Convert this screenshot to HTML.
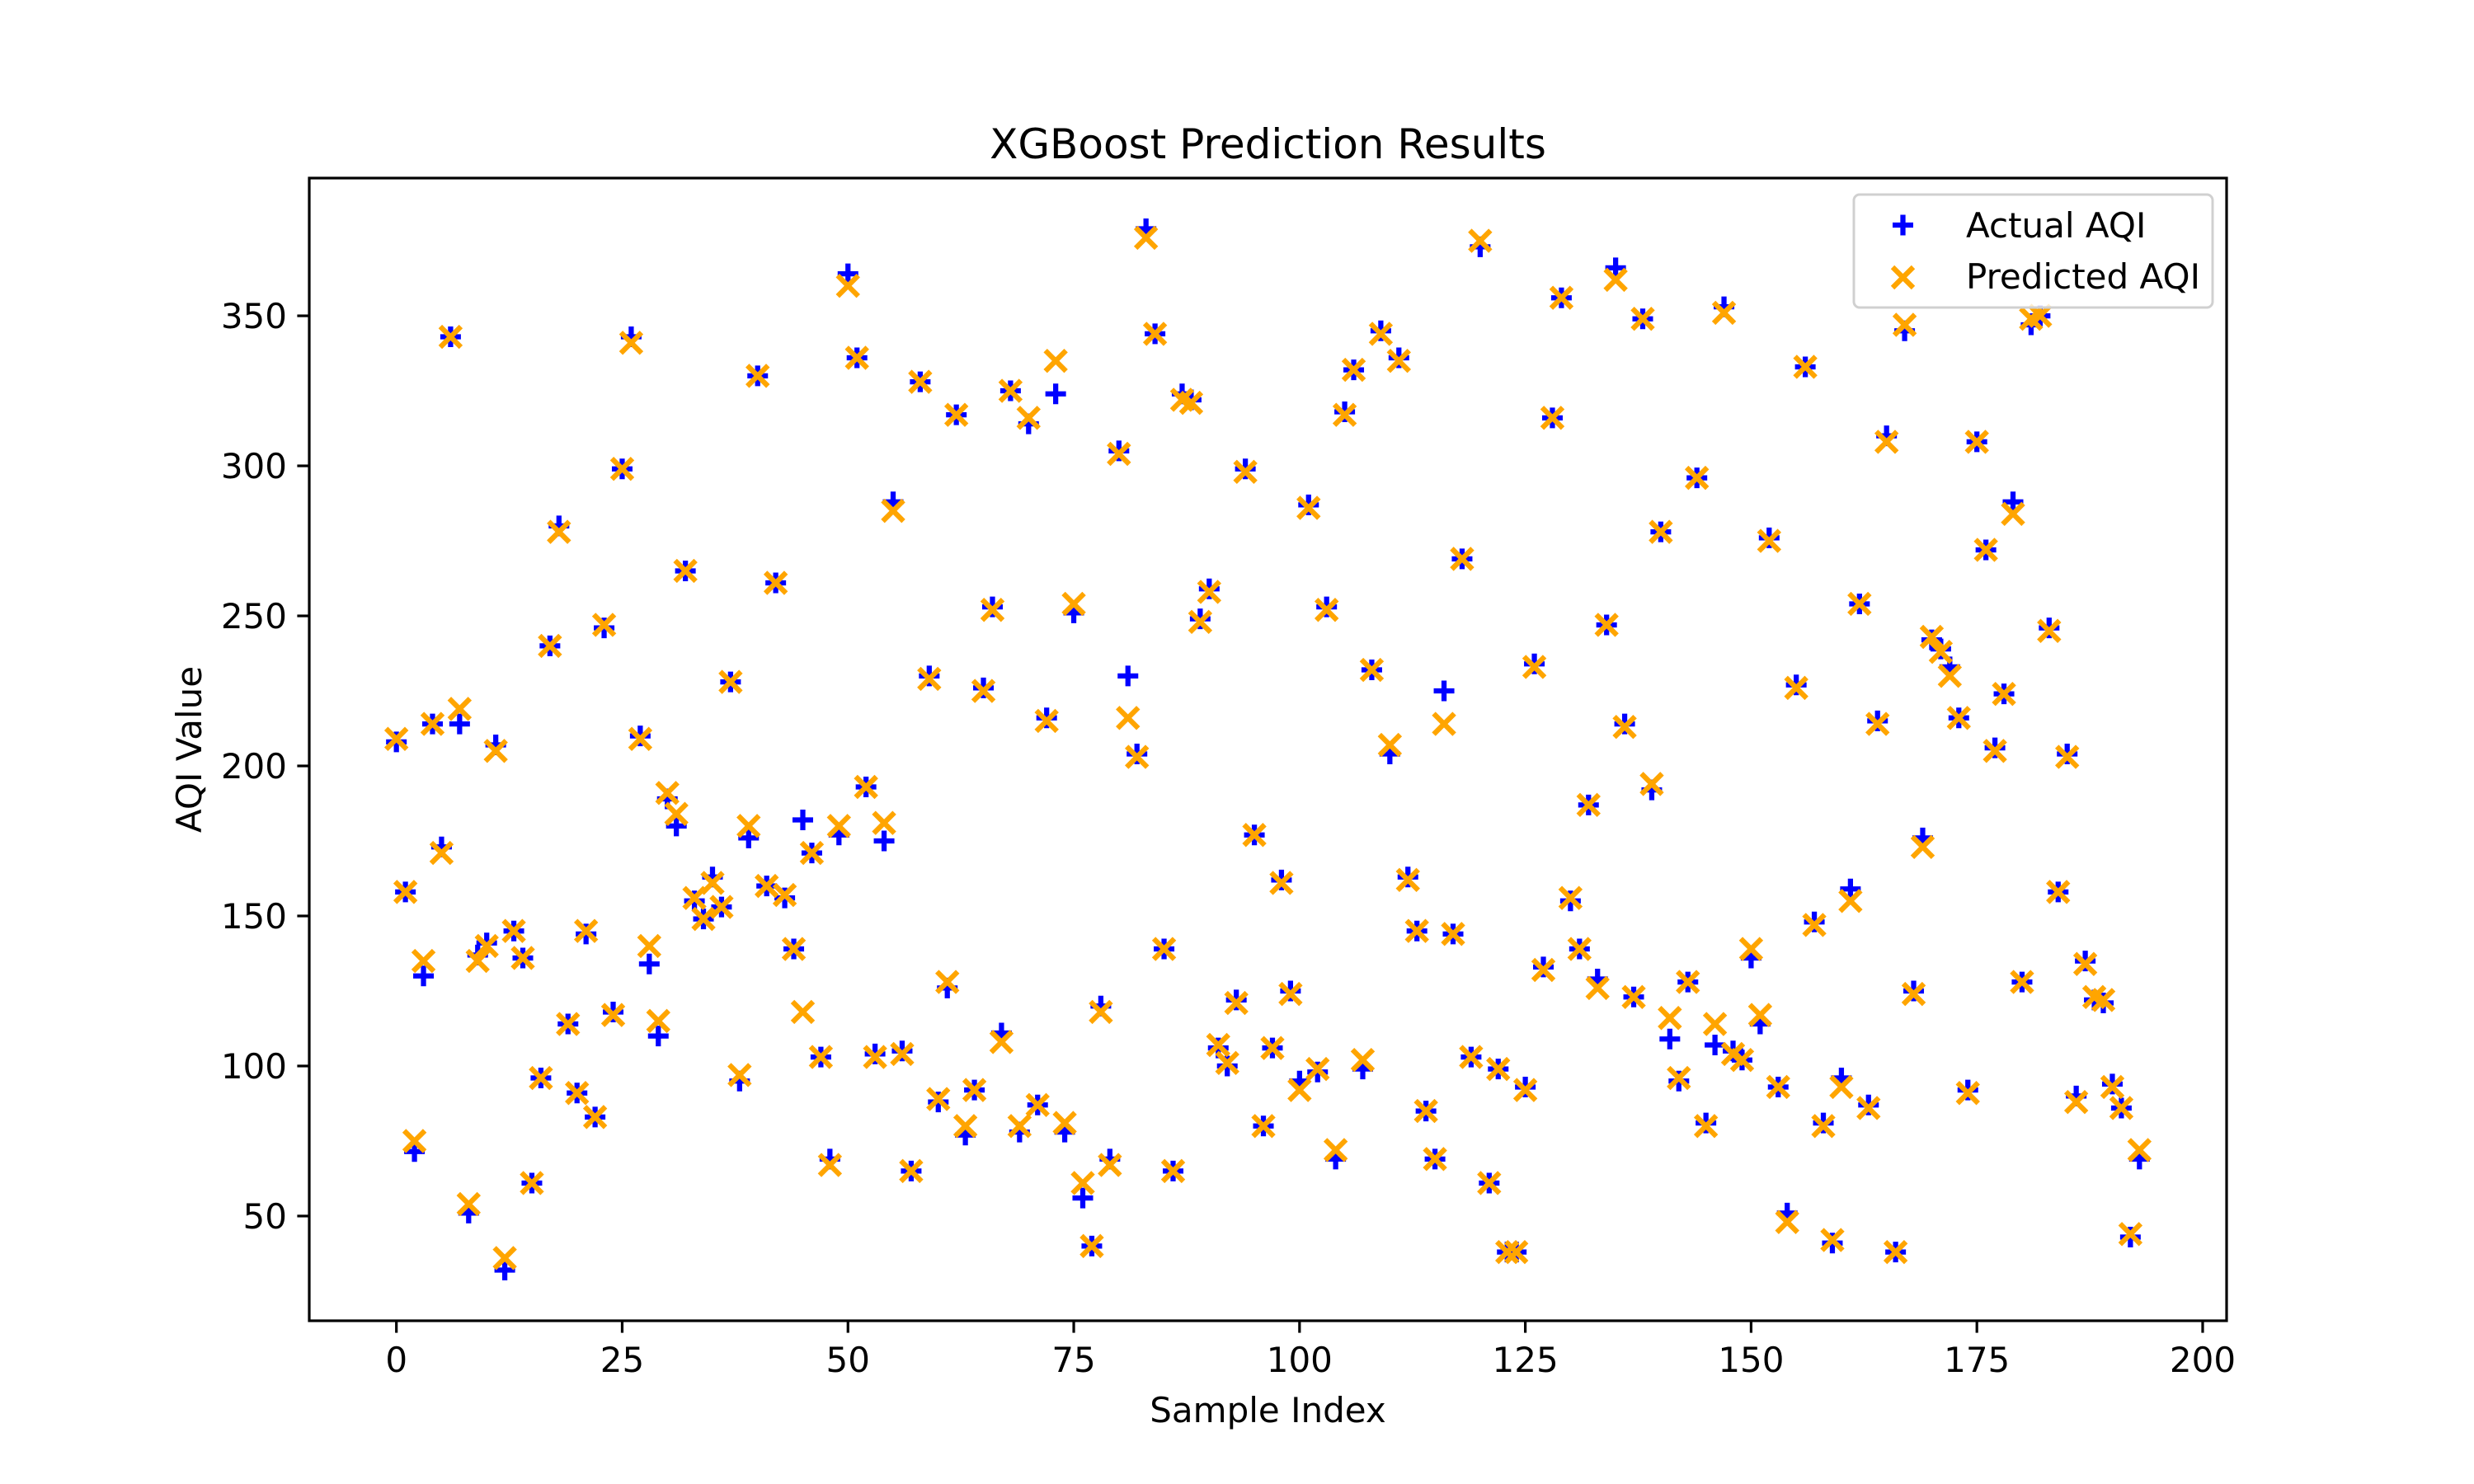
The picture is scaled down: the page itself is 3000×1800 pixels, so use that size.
<!DOCTYPE html>
<html><head><meta charset="utf-8"><style>
html,body{margin:0;padding:0;background:#fff;}
svg{display:block;font-family:"DejaVu Sans","Liberation Sans",sans-serif;}
</style></head><body>
<svg id="chart" width="3000" height="1800" viewBox="0 0 3000 1800" xmlns="http://www.w3.org/2000/svg">
<rect width="3000" height="1800" fill="#fff"/>
<text x="1537.5" y="192" font-size="50" text-anchor="middle">XGBoost Prediction Results</text>
<text x="1537.5" y="1725" font-size="42" text-anchor="middle">Sample Index</text>
<text x="0" y="0" font-size="42" text-anchor="middle" transform="translate(244,909) rotate(-90)">AQI Value</text>
<g id="ticks"></g>
<g id="marks"></g>
<rect x="375" y="216" width="2325" height="1386" fill="none" stroke="#000" stroke-width="3.2"/>
<g>
<rect x="2248" y="236" width="435" height="137" rx="7" fill="#fff" fill-opacity="0.8" stroke="#d0d0d0" stroke-width="3"/>
<g>
<path d="M2295 273h25M2307.5 260.5v25" stroke="blue" stroke-width="6.25"/>
<text x="2384" y="288" font-size="42">Actual AQI</text></g>
<g>
<path d="M2295 324l25 25M2295 349l25 -25" stroke="orange" stroke-width="6.25"/>
<text x="2384" y="350" font-size="42">Predicted AQI</text></g>
</g>
</svg>
<script>
const actual=[208,158,71.5,130,214,173,343,214,51,137,141,207,32,145,136,61,96,240,280,114,91,144,83,246,118,299,343,210,134,110,189,180,265,155,149,163,153,228,95,176,330,160,261,156,139,182,171,103,69,177,364,336,193,104,175,288,105,65,328,230,88,126,317,77,92,226,253,111,325,78,314,87,216,324,78,251,56,40,120,69,305,230,204,379,344,139,65,324,322,249,259,106,100,122,299,177,80,106,162,125,95,287,98,253,69,318,332,99,232,345,204,336,163,145,85,69,225,144,269,103,373,61,99,38,38,93,234,133,316,356,155,139,187,129,247,366,214,123,349,192,278,109,95,128,296,81,107,353,105,102,136,114,276,93,51,227,333,148,81,41,96,159,254,87,215,310,38,345,125,176,242,239,233,216,92,308,272,206,224,288,128,347,350,246,158,204,90,135,122,121,94,86,43,69];
const predicted=[209,158,75,135,214,171,343,219,54,135,140,205,36,145,136,61,96,240,278,114,91,145,83,247,117,299,341,209,140,115,191,184,265,156,149,161,153,228,97,180,330,160,261,157,139,118,171,103,67,180,360,336,193,103,181,285,104,65,328,229,89,128,317,80,92,225,252,108,325,80,316,87,215,335,81,254,61,40,118,67,304,216,203,376,344,139,65,322,321,248,258,107,101,121,298,177,80,106,161,124,92,286,99,252,72,317,332,102,232,344,207,335,162,145,85,69,214,144,269,103,375,61,99,38,38,92,233,132,316,356,156,139,187,126,247,362,213,123,349,194,278,116,96,128,296,80,114,351,104,102,139,117,275,93,48,226,333,147,80,42,93,155,254,86,214,308,38,347,124,173,243,238,230,216,91,308,272,205,224,284,128,349,350,245,158,203,88,134,123,122,93,86,44,72];
const xTicks=[0,25,50,75,100,125,150,175,200];
const yTicks=[50,100,150,200,250,300,350];
const NS="http://www.w3.org/2000/svg";
const X0=375,X1=2700,Y0=216,Y1=1602;
const xmin=-9.65,xmax=202.65,ymin=15.1,ymax=395.9;
function sx(v){return X0+(v-xmin)/(xmax-xmin)*(X1-X0);}
function sy(v){return Y1-(v-ymin)/(ymax-ymin)*(Y1-Y0);}
function el(t,a,p){const e=document.createElementNS(NS,t);for(const k in a)e.setAttribute(k,a[k]);p.appendChild(e);return e;}
const tg=document.getElementById('ticks'),mg=document.getElementById('marks');
xTicks.forEach(v=>{
  const x=sx(v);
  const l=el('line',{x1:x,x2:x,y1:Y1,y2:Y1+14.6,stroke:'#000','stroke-width':3.2},tg);
  
  
  const t=el('text',{x:x,y:Y1+62,'font-size':42,'text-anchor':'middle'},tg);
  t.textContent=v;
  
  
});
yTicks.forEach(v=>{
  const y=sy(v);
  const l=el('line',{x1:X0-14.6,x2:X0,y1:y,y2:y,stroke:'#000','stroke-width':3.2},tg);
  
  
  const t=el('text',{x:X0-27,y:y+15,'font-size':42,'text-anchor':'end'},tg);
  t.textContent=v;
  
  
});
const h=12.5;
actual.forEach((v,i)=>{
  const x=sx(i),y=sy(v);
  const p=el('path',{d:`M${x-h} ${y}h${2*h}M${x} ${y-h}v${2*h}`,stroke:'blue','stroke-width':6.25,fill:'none'},mg);
  
  
});
const d=12.5;
predicted.forEach((v,i)=>{
  const x=sx(i),y=sy(v);
  const p=el('path',{d:`M${x-d} ${y-d}L${x+d} ${y+d}M${x-d} ${y+d}L${x+d} ${y-d}`,stroke:'orange','stroke-width':6.25,fill:'none'},mg);
  
  
});
</script>
</body></html>
